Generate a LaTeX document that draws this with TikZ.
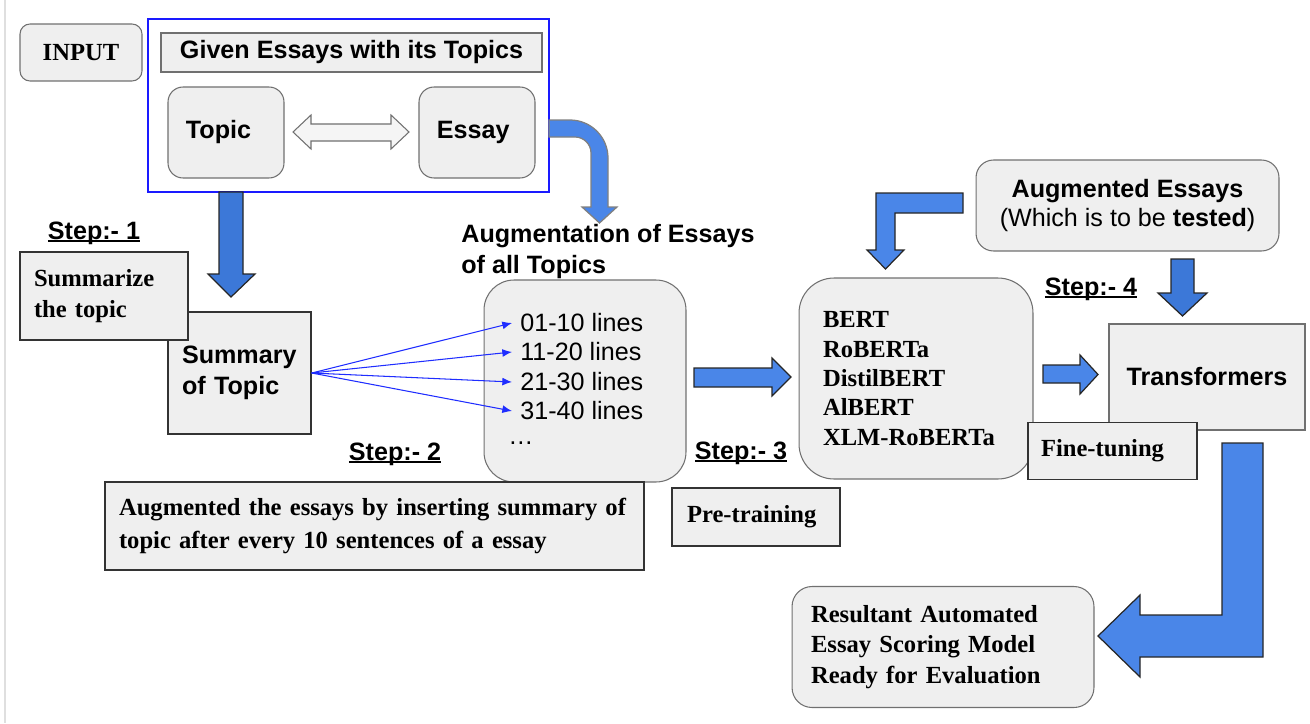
\documentclass[tikz,border=0pt]{standalone}
\usepackage{fontspec}
\setmainfont{Liberation Serif}
\setsansfont{Liberation Sans}
\usepackage{tikz}
\usetikzlibrary{arrows.meta,positioning}
\tikzset{>=latex}

\definecolor{boxgray}{HTML}{EFEFEF}
\definecolor{edgegray}{HTML}{707070}
\definecolor{edgedark}{HTML}{333333}
\definecolor{arrblue}{HTML}{4A86E8}
\definecolor{arrbluedk}{HTML}{3C78D8}
\definecolor{fanblue}{HTML}{1F2DFF}
\definecolor{frameblue}{HTML}{1A1AFF}

\newcommand{\fsz}{\fontsize{14.3}{17}\selectfont}
\newcommand{\rsz}{\fontsize{14}{17}\selectfont}
\newcommand{\steplabel}[1]{\sbox0{#1}\rlap{\rule[-1.8pt]{\wd0}{1.2pt}}\usebox0}

\tikzset{
  rbox/.style={draw=edgegray, fill=boxgray, line width=0.6pt, rounded corners=0.3cm, inner sep=0pt},
  sbox/.style={draw=edgedark, fill=boxgray, line width=0.8pt, inner sep=0pt},
  sanstxt/.style={font=\sffamily\bfseries\fsz},
  seriftxt/.style={font=\rmfamily\bfseries\rsz},
  steptxt/.style={font=\sffamily\bfseries\fsz, inner sep=0pt},
  blockarrow/.style={fill=arrblue, draw=black!85, line width=0.7pt, line join=miter},
  fan/.style={-{Latex[length=5.5pt,width=4.5pt]}, draw=fanblue, line width=0.6pt},
}

\begin{document}
\begin{tikzpicture}[x=0.02cm, y=-0.02cm]
\useasboundingbox (0,0) rectangle (1310,723);

% margin line
\draw[gray!25, line width=1.2pt] (5,0) -- (5,723);

% Input
\node[rbox, rounded corners=0.2cm, seriftxt, minimum width=2.44cm, minimum height=1.14cm] (input) at (81,52.5) {INPUT};
\node[draw=frameblue, fill=white, line width=0.7pt, minimum width=8.02cm, minimum height=3.46cm] (given) at (348.5,105.5) {};
\node[sbox, draw=edgegray, sanstxt, minimum width=7.62cm, minimum height=0.78cm] (title) at (351.5,52.5) {Given Essays with its Topics};
\node[rbox, sanstxt, minimum width=2.32cm, minimum height=1.82cm] (topic) at (226,132.5) {\hspace*{-0.3cm}Topic};
\node[rbox, sanstxt, minimum width=2.32cm, minimum height=1.82cm] (essay) at (477,132.5) {\hspace*{-0.15cm}Essay};
\draw[draw=edgegray, fill=boxgray!60, line width=0.6pt] (293,132) -- (311,115) -- (311,124) -- (391,124) -- (391,115) -- (409,132) -- (391,149) -- (391,141) -- (311,141) -- (311,149) -- cycle;

% Input arrows
\draw[blockarrow, fill=arrbluedk] (219,192) -- (243,192) -- (243,274) -- (255,274) -- (231,297) -- (208,274) -- (219,274) -- cycle;
\draw[blockarrow, draw=gray] (549,120) -- (570,120) .. controls (591,120) and (608,137) .. (608,158) -- (608,207) -- (617,207) -- (599.5,223) -- (582,207) -- (591,207) -- (591,153) .. controls (591,144.2) and (583.8,137) .. (575,137) -- (549,137) -- cycle;

% Step 1
\node[steptxt] (step1) at (94,233) {\steplabel{Step:- 1}};
\node[sbox, minimum width=2.86cm, minimum height=2.44cm, inner xsep=0.28cm, text width=2.3cm, align=left, font=\sffamily\bfseries\fontsize{14.3}{17.6}\selectfont] (sumtop) at (239.5,373) {Summary\\of Topic};
\node[sbox, minimum width=3.36cm, minimum height=1.76cm, inner xsep=0.28cm, text width=2.8cm, align=left, font=\rmfamily\bfseries\fontsize{14}{17.6}\selectfont] (summ) at (104,296) {Summarize\\the topic};

% Step 2
\node[anchor=west, inner sep=0pt, align=left, font=\sffamily\bfseries\fontsize{14.3}{17.6}\selectfont] (augtitle) at (461,251.5) {Augmentation of Essays\\of all Topics};
\node[rbox, rounded corners=0.6cm, minimum width=4.04cm, minimum height=4.04cm] (aug) at (585,381) {};
\node[font=\sffamily\fsz, anchor=west, inner xsep=0.16cm, inner ysep=0pt] (l1) at (512,323) {01-10 lines};
\node[font=\sffamily\fsz, anchor=west, inner xsep=0.16cm, inner ysep=0pt] (l2) at (512,352) {11-20 lines};
\node[font=\sffamily\fsz, anchor=west, inner xsep=0.16cm, inner ysep=0pt] (l3) at (512,382) {21-30 lines};
\node[font=\sffamily\fsz, anchor=west, inner xsep=0.16cm, inner ysep=0pt] (l4) at (512,411) {31-40 lines};
\node[font=\sffamily\fsz, anchor=west, inner sep=0pt] (ldots) at (508,443) {\ldots};
\foreach \l in {l1,l2,l3,l4}
  \draw[fan] (sumtop.east) -- (\l.west);
\node[steptxt] (step2) at (395,454) {\steplabel{Step:- 2}};
\node[sbox, minimum width=10.78cm, minimum height=1.76cm, inner xsep=0.28cm, text width=10.22cm, align=left, font=\rmfamily\bfseries\fontsize{14}{18.8}\selectfont] (augtxt) at (374.5,526) {\mbox{Augmented the essays by inserting summary of}\\\mbox{topic after every 10 sentences of a essay}};

% Step 3
\draw[blockarrow] (694,368) -- (772,368) -- (772,358) -- (791,377) -- (772,396) -- (772,387) -- (694,387) -- cycle;
\node[steptxt] (step3) at (741,453) {\steplabel{Step:- 3}};
\node[sbox, seriftxt, minimum width=3.36cm, minimum height=1.16cm, inner xsep=0.3cm, text width=2.76cm, align=left] (pretrain) at (756,517) {Pre-training};
\node[rbox, rounded corners=0.7cm, minimum width=4.68cm, minimum height=4.02cm, inner xsep=0.48cm, text width=3.72cm, align=left, font=\rmfamily\bfseries\fontsize{14}{16.7}\selectfont] (models) at (916,378.5) {BERT\\RoBERTa\\DistilBERT\\AlBERT\\XLM-RoBERTa};

% Step 4
\node[rbox, rounded corners=0.35cm, minimum width=6.06cm, minimum height=1.82cm, align=center, font=\sffamily\fontsize{14.3}{17}\selectfont] (augess) at (1127.5,205.5) {\textbf{Augmented Essays}\\(Which is to be \textbf{tested})};
\draw[blockarrow] (963,193) -- (876,193) -- (876,250) -- (867,250) -- (885.5,269) -- (904,250) -- (895,250) -- (895,213) -- (963,213) -- cycle;
\draw[blockarrow, fill=arrbluedk] (1171,259) -- (1194,259) -- (1194,293) -- (1207,293) -- (1182.5,316) -- (1158,293) -- (1171,293) -- cycle;
\node[steptxt] (step4) at (1091,289) {\steplabel{Step:- 4}};
\draw[blockarrow] (1043,365) -- (1080,365) -- (1080,355) -- (1098,374.5) -- (1080,394) -- (1080,383) -- (1043,383) -- cycle;
\node[sbox, draw=edgegray, sanstxt, minimum width=3.92cm, minimum height=2.12cm] (trans) at (1207,377) {Transformers};
\node[sbox, seriftxt, minimum width=3.38cm, minimum height=1.14cm, inner xsep=0.26cm, text width=2.86cm, align=left] (fine) at (1112.5,451) {Fine-tuning};

% Result
\draw[blockarrow] (1222,443) -- (1263,443) -- (1263,657) -- (1140,657) -- (1140,677) -- (1098,636) -- (1140,595) -- (1140,615) -- (1222,615) -- cycle;
\node[rbox, rounded corners=0.4cm, minimum width=6.04cm, minimum height=2.42cm, inner xsep=0.38cm, text width=5.28cm, align=left, font=\rmfamily\bfseries\fontsize{14}{17.2}\selectfont] (result) at (943,647) {Resultant Automated\\Essay Scoring Model\\Ready for Evaluation};

\end{tikzpicture}
\end{document}
